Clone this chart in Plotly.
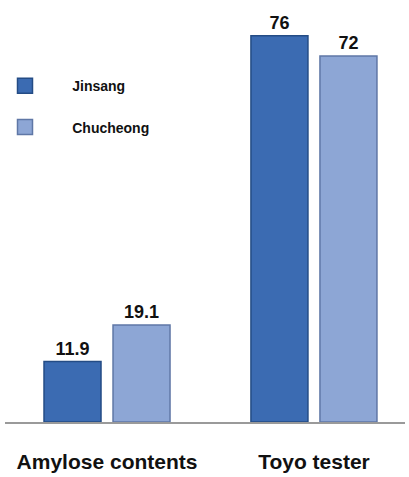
import plotly.graph_objects as go

categories = ["Amylose contents", "Toyo tester"]
series_names = ["Jinsang", "Chucheong"]
jinsang = [11.9, 76]
chucheong = [19.1, 72]
labels_j = ["11.9", "76"]
labels_c = ["19.1", "72"]

fill_colors = ["#3B6BB2", "#8DA6D5"]
edge_colors = ["#244C85", "#5F77A6"]

fig = go.Figure()
for name, vals, labs, fc, ec in [
    (series_names[0], jinsang, labels_j, fill_colors[0], edge_colors[0]),
    (series_names[1], chucheong, labels_c, fill_colors[1], edge_colors[1]),
]:
    fig.add_trace(go.Bar(
        x=categories, y=vals, name=name, showlegend=False,
        text=labs, textposition="outside", cliponaxis=False,
        textfont=dict(family="Liberation Sans", size=18, color="#111111", weight="bold"),
        marker=dict(color=fc, line=dict(color=ec, width=1.5)),
    ))

# legend entries
pad = "\u00a0" * 7
for name, fc, ec, grp in [
    (series_names[0], fill_colors[0], edge_colors[0], "a"),
    (series_names[1], fill_colors[1], edge_colors[1], "b"),
]:
    fig.add_trace(go.Scatter(
        x=[None], y=[None], mode="markers", name=pad + name, legendgroup=grp,
        marker=dict(symbol="square", size=15, color=fc, line=dict(color=ec, width=1.5)),
    ))

fig.update_layout(
    width=409, height=477,
    margin=dict(l=5, r=4, t=20, b=51),
    plot_bgcolor="white", paper_bgcolor="white",
    barmode="group", bargap=0.333, bargroupgap=0.174,
    showlegend=True,
    legend=dict(x=0.0, y=0.875, xanchor="left", yanchor="top", itemsizing="trace",
                font=dict(family="Liberation Sans", size=14, color="#111111", weight="bold"),
                tracegroupgap=20, bgcolor="rgba(0,0,0,0)"),
    xaxis=dict(range=[-0.493, 1.44], showline=True, linecolor="#9A9A9A", linewidth=1.5,
               ticks="", ticklabelstandoff=20,
               tickfont=dict(family="Liberation Sans", size=21, color="#111111", weight="bold")),
    yaxis=dict(range=[0, 79.1], visible=False, showgrid=False, zeroline=False),
    font=dict(family="Liberation Sans"),
)

fig.write_html("out.html", config={"displayModeBar": False})
with open("out.html", "r", encoding="utf-8") as f:
    html = f.read()
html = html.replace("<head>", "<head><style>html,body{margin:0;padding:0;overflow:hidden;}</style>", 1)
with open("out.html", "w", encoding="utf-8") as f:
    f.write(html)
